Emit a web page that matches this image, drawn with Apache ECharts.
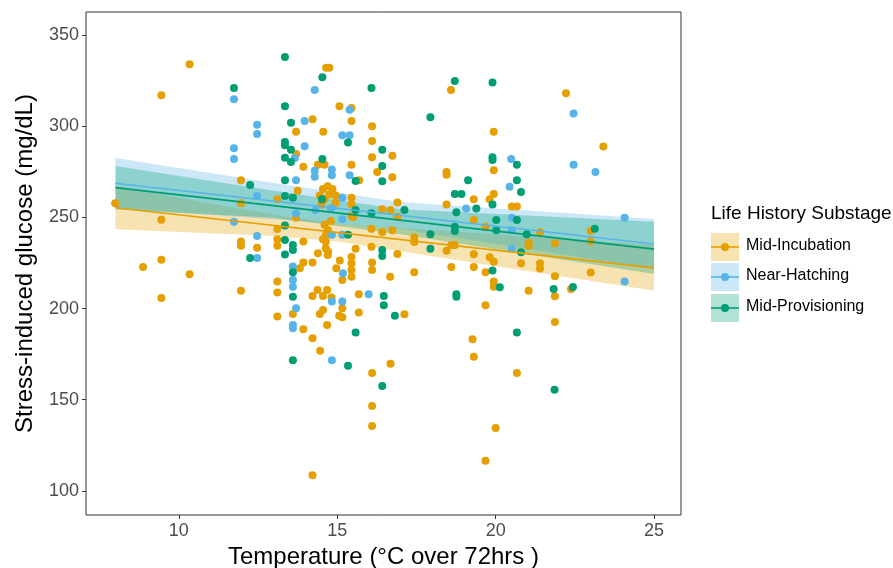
<!DOCTYPE html>
<html>
<head>
<meta charset="utf-8">
<script src="https://cdn.jsdelivr.net/npm/echarts@6/dist/echarts.min.js"></script>
<style>
  html, body { margin: 0; padding: 0; background: #fff; }
  #chart { width: 893px; height: 568px; }
</style>
</head>
<body>
<div id="chart"></div>
<script>
// Substage names and colours
const groups = ['Mid-Incubation', 'Near-Hatching', 'Mid-Provisioning'];
const colors = ['#E69F00', '#56B4E9', '#009E73'];

// Observations: [temperature (°C over 72 h), stress-induced glucose (mg/dL)]
const midIncubation = [
  [10.34,333.9],[9.45,316.9],[11.96,270.3],[7.99,257.7],[9.45,248.7],[11.96,257.7],[13.11,259.9],[13.11,243.6],
  [11.96,236.7],[11.96,234.4],[12.47,233.4],[13.11,238],[13.11,234.4],[9.45,226.8],[8.87,222.8],[10.34,218.8],
  [13.11,214.8],[11.96,209.8],[13.11,208.8],[9.45,205.8],[13.11,195.6],
  [14.65,332],[14.75,332],[15.07,310.9],[15.45,310],[14.22,303.8],[15.45,302.9],[16.1,300],[13.7,297],[14.56,297],
  [16.1,291.9],[16.74,283.8],[16.1,282.9],[13.7,284.8],[13.93,277.8],[14.39,278.9],[14.6,278.9],[15.45,278.9],
  [16.26,274.9],[16.74,272],[15.69,270.3],
  [13.75,264.6],[15.45,260.8],[15.45,257.2],[15.45,250.9],[15.5,250],[16.42,254.4],[16.9,258.1],[16.68,254.1],
  [16.9,250.4],[13.7,249.8],[14.45,262],[14.55,265.5],[14.7,267],[14.85,265.5],[14.95,262],[14.95,258],[14.8,255],
  [14.5,257],[14.6,260],[14.75,262.5],
  [14.64,240.3],[14.64,236.7],[14.64,233],[14.7,229.4],[14.39,230.3],[14.71,231.2],[14.6,246],[14.7,243],[14.8,248],[14.55,238],
  [16.08,243.8],[16.42,242],[16.74,242.9],[13.93,236.7],[15.58,232.8],[16.08,233.9],[16.9,229.9],[15.45,228.2],
  [15.45,224.9],[15.45,221.2],[15.08,226.3],[14.22,225.2],[13.93,225.2],[13.82,222.1],[14.97,222.1],[16.1,225.2],
  [16.1,221.2],[15.45,217.5],[15.16,215.7],[16.67,217.5],[15.68,207.8],[14.38,210.2],[14.68,210.2],[14.22,206.9],
  [14.55,206.9],[14.82,206],[15.16,200.2],[14.55,199.2],[14.45,197],[15.06,196.1],[15.16,195.2],[13.6,197],
  [15.68,197.8],[17.12,196.9],[13.93,188.6],[14.68,191],[14.22,183.7],[14.46,176.8],[16.1,164.7],[16.68,169.8],
  [16.1,146.6],[16.1,135.6],[14.22,108.6],
  [18.59,319.8],[19.94,297],[19.94,275.8],[18.45,274.9],[18.45,273.4],[19.31,259.9],[19.81,259.9],[19.94,262.8],
  [18.45,257],[20.51,255.9],[20.67,255.9],[19.31,248.6],[19.68,244.9],[21.4,241.8],[21.04,236.1],[21.04,234.3],
  [17.43,238.9],[17.43,236.5],[18.6,234.8],[18.71,234.8],[18.45,231.7],[19.31,229.8],[19.81,228.1],[19.94,225.7],
  [20.8,224.8],[21.4,224.8],[21.4,221.9],[18.6,222.8],[19.31,222.8],[19.68,219.9],[17.43,219.9],[19.94,214.8],
  [19.94,212],[21.04,209.8],[19.68,201.8],[19.27,183.2],[19.31,173.6],[20.67,164.7],[20.0,134.5],[19.68,116.6],
  [22.22,318],[23.4,288.8],[21.87,235.8],[23.0,242.7],[23.0,236.9],[21.87,217.7],[23.0,219.7],[21.87,206.7],
  [22.38,210.7],[21.87,192.6]
];
const nearHatching = [
  [11.74,314.7],[12.47,300.8],[12.47,295.7],[11.74,287.9],[11.74,282],[12.47,261.7],[11.74,247.6],[12.47,239.8],
  [12.47,227.7],
  [14.29,319.8],[15.39,309],[13.97,302.9],[15.16,295],[15.39,295],[13.97,289],[13.66,282.6],[14.29,275.6],
  [14.29,272.2],[14.83,276.2],[14.83,273.1],[15.39,273.1],[13.7,270.3],
  [15.16,260.8],[14.31,254.1],[14.82,255],[13.7,252.3],[15.16,249],[14.83,240.4],[15.16,240.4],[13.6,223],
  [13.6,215.7],[13.6,212],[15.18,219.4],[15.99,207.8],[14.83,203.8],[15.16,203.8],[13.7,200.2],[13.6,191],
  [13.6,189.2],[14.83,171.7],
  [20.49,282],[20.44,266.8],[19.07,254.8],[20.51,249.8],[20.51,242.9],[20.51,232.8],
  [22.46,306.9],[22.46,278.9],[23.15,274.9],[24.07,249.8],[24.07,214.8]
];
const midProvisioning = [
  [11.74,320.9],[13.35,337.9],[13.35,310.9],[13.35,291.3],[13.35,289.5],[13.35,282.7],[13.35,270.3],[12.25,267.8],
  [13.35,261.7],[13.35,245.5],[13.35,237.6],[12.25,227.7],[13.35,229.7],
  [14.53,326.8],[16.08,320.9],[13.54,301.9],[15.34,291],[13.54,287.1],[16.42,287.1],[14.53,282],[13.54,280.4],
  [16.42,278.2],[15.58,270],[16.42,269.8],
  [14.52,259.9],[13.6,260.8],[15.58,254],[16.08,252.3],[17.12,254.1],[15.34,240.4],[13.6,234.9],[13.6,232.1],
  [16.42,232.1],[16.42,228.8],[13.6,219.9],[13.6,206.5],[16.47,206.9],[16.47,201.8],[16.82,196],[15.58,186.8],
  [13.6,171.7],[15.34,168.7],[16.42,157.6],
  [18.71,324.8],[19.9,323.9],[17.94,304.9],[19.9,282.9],[19.9,281.5],[20.67,278.9],[19.13,270.3],[20.67,270.3],
  [20.8,263.9],[18.71,262.8],[18.92,262.8],[19.9,257],[19.39,254.8],[18.76,252.8],[20.67,248.6],[20.02,248.6],
  [18.71,244.9],[18.71,242.5],[20.02,242.9],[20.98,240.7],[17.94,240.7],[17.94,232.8],[20.8,230.9],[19.9,220.8],
  [20.13,211.7],[18.76,207.8],[18.76,206.5],[20.67,186.8],
  [23.13,243.8],[21.83,210.7],[22.44,211.8],[21.86,155.5]
];

// Fitted lines (endpoints) and confidence bands: [x, lower, upper]
const fitIncubation = [[8, 255.3], [25, 222.3]];
const fitHatching = [[8, 268.7], [25, 235.4]];
const fitProvisioning = [[8, 266.3], [25, 232.6]];

const bandIncubation = [[8, 243.5, 267.1], [13, 239.8, 251.4], [15, 236.7, 246.7], [17, 231.4, 244.2], [25, 209.7, 234.9]];
const bandHatching = [[8, 254.8, 282.6], [13, 248.9, 268.9], [17, 243.8, 258.4], [25, 221.7, 249.1]];
const bandProvisioning = [[8, 254.3, 278.2], [13, 249.8, 264.6], [17, 240.8, 254.4], [25, 219.0, 247.6]];

// Axis ticks
const xTicks = [10, 15, 20, 25];
const yTicks = [100, 150, 200, 250, 300, 350];

const font = '"Liberation Sans", Arial, Helvetica, sans-serif';

function bandSeries(band, color) {
  return {
    type: 'custom',
    data: [0],
    silent: true,
    renderItem: function (params, api) {
      const upper = band.map(d => api.coord([d[0], d[2]]));
      const lower = band.slice().reverse().map(d => api.coord([d[0], d[1]]));
      return {
        type: 'polygon',
        shape: { points: upper.concat(lower) },
        style: { fill: color, opacity: 0.3 }
      };
    }
  };
}

function fitSeries(fit, color) {
  return {
    type: 'line',
    data: fit,
    showSymbol: false,
    silent: true,
    lineStyle: { color: color, width: 1.6 }
  };
}

function pointSeries(data, color) {
  return {
    type: 'scatter',
    data: data,
    symbolSize: 8,
    itemStyle: { color: color, opacity: 1 }
  };
}

const chart = echarts.init(document.getElementById('chart'), null, { renderer: 'canvas' });

// Hand-built legend block at the right of the panel
const legendGraphics = [{
  type: 'text', left: 711, top: 204,
  style: { text: 'Life History Substage', font: '19px ' + font, fill: '#000' }
}];
const keyCentres = [247, 277, 308];
groups.forEach((g, i) => {
  const cy = keyCentres[i];
  legendGraphics.push(
    { type: 'rect', shape: { x: 711, y: cy - 14, width: 28, height: 28 }, style: { fill: colors[i], opacity: 0.3 } },
    { type: 'line', shape: { x1: 711, y1: cy, x2: 739, y2: cy }, style: { stroke: colors[i], lineWidth: 1.6 } },
    { type: 'circle', shape: { cx: 725, cy: cy, r: 4 }, style: { fill: colors[i] } },
    { type: 'text', left: 746, top: cy - 9, style: { text: g, font: '16px ' + font, fill: '#000' } }
  );
});

chart.setOption({
  backgroundColor: '#fff',
  animation: false,
  grid: {
    left: 86, top: 12, right: 212, bottom: 53,
    outerBoundsMode: 'none', containLabel: false,
    show: true, borderColor: '#333', borderWidth: 1, backgroundColor: 'transparent'
  },
  xAxis: {
    type: 'value', min: 7.07, max: 25.85,
    name: 'Temperature (°C over 72hrs )', nameLocation: 'middle', nameGap: 30,
    nameTextStyle: { fontSize: 24, fontFamily: font, color: '#000' },
    axisLine: { show: false },
    splitLine: { show: false },
    axisTick: { show: true, length: 4, lineStyle: { color: '#333' }, customValues: xTicks },
    axisLabel: { fontSize: 18, fontFamily: font, color: '#4D4D4D', margin: 7, customValues: xTicks }
  },
  yAxis: {
    type: 'value', min: 86.8, max: 362.6,
    name: 'Stress-induced glucose (mg/dL)', nameLocation: 'middle', nameGap: 49,
    nameTextStyle: { fontSize: 24, fontFamily: font, color: '#000' },
    axisLine: { show: false },
    splitLine: { show: false },
    axisTick: { show: true, length: 4, lineStyle: { color: '#333' }, customValues: yTicks },
    axisLabel: { fontSize: 18, fontFamily: font, color: '#4D4D4D', margin: 7, customValues: yTicks }
  },
  graphic: legendGraphics,
  series: [
    pointSeries(midIncubation, colors[0]),
    pointSeries(nearHatching, colors[1]),
    pointSeries(midProvisioning, colors[2]),
    bandSeries(bandIncubation, colors[0]),
    fitSeries(fitIncubation, colors[0]),
    bandSeries(bandHatching, colors[1]),
    fitSeries(fitHatching, colors[1]),
    bandSeries(bandProvisioning, colors[2]),
    fitSeries(fitProvisioning, colors[2])
  ]
});
</script>
</body>
</html>
